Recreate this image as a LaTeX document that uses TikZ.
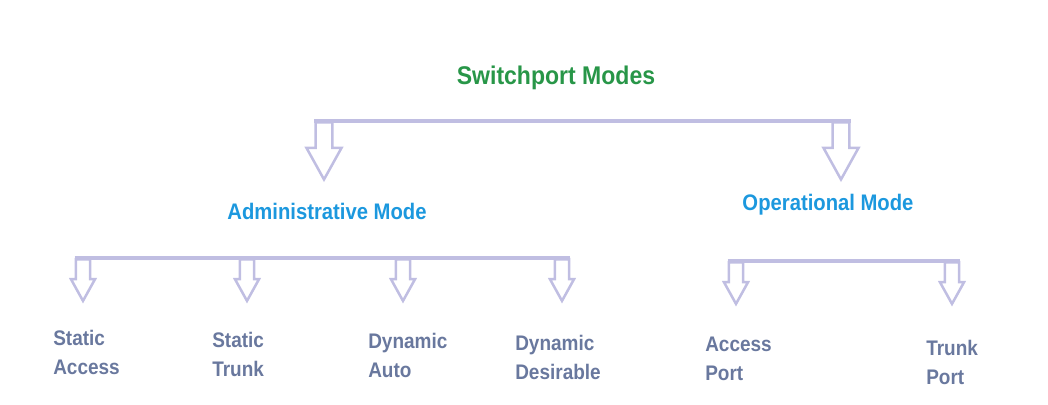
\documentclass[tikz,border=0pt]{standalone}
\usepackage{fontspec}
\setmainfont{Liberation Sans}
\newfontfamily\narrowsf[FakeStretch=0.9]{Liberation Sans}
\usepackage{tikz}
\usetikzlibrary{shapes.arrows}
\definecolor{ModeGreen}{RGB}{40,150,72}
\definecolor{ModeBlue}{RGB}{28,152,222}
\definecolor{LeafGray}{RGB}{105,120,158}
\definecolor{Lilac}{RGB}{192,190,226}
\tikzset{
  titletext/.style={font=\narrowsf\fontsize{18.2}{22}\selectfont\bfseries, text=ModeGreen, inner sep=0pt},
  modetext/.style={font=\narrowsf\fontsize{16}{19}\selectfont\bfseries, text=ModeBlue, inner sep=0pt},
  leaf/.style={font=\narrowsf\fontsize{15}{20.5}\selectfont\bfseries, text=LeafGray,
               align=left, inner sep=0pt, anchor=north west},
  downarr/.style={shape=single arrow, draw=Lilac, line width=1.8pt, shape border rotate=270,
                  single arrow tip angle=58, anchor=tail},
  bigarr/.style={downarr, inner sep=0.18cm, single arrow head extend=0.225cm, minimum height=1.43cm},
  smallarr/.style={downarr, inner sep=0.144cm, single arrow head extend=0.125cm, minimum height=1.04cm},
  bar/.style={draw=Lilac, line width=2.5pt}
}
\begin{document}
\begin{tikzpicture}[x=0.025cm, y=-0.025cm]
\useasboundingbox (0,0) rectangle (1048,405);
\node[titletext, anchor=base] (title) at (556,85) {Switchport Modes};
\node[modetext, anchor=base] (adm) at (327,220) {Administrative Mode};
\node[modetext, anchor=base] (oper) at (828,211) {Operational Mode};
% first level
\node[bigarr] (toAdm) at (324,121) {};
\node[bigarr] (toOper) at (841,121) {};
\draw[bar] (toAdm.before tail) -- (toOper.after tail);
% administrative modes
\node[smallarr] (toSA) at (83,258) {};
\node[smallarr] (toST) at (247,258) {};
\node[smallarr] (toDA) at (403,258) {};
\node[smallarr] (toDD) at (562,258) {};
\draw[bar] (toSA.before tail) -- (toDD.after tail);
% operational modes
\node[smallarr] (toAP) at (736,261) {};
\node[smallarr] (toTP) at (952,261) {};
\draw[bar] (toAP.before tail) -- (toTP.after tail);
\node[leaf] (sa) at (53,330) {Static\\Access};
\node[leaf] (st) at (212,332) {Static\\Trunk};
\node[leaf] (da) at (368,333) {Dynamic\\Auto};
\node[leaf] (dd) at (515,335) {Dynamic\\Desirable};
\node[leaf] (ap) at (705,337) {Access\\Port};
\node[leaf] (tp) at (926,340) {Trunk\\Port};
\end{tikzpicture}
\end{document}
